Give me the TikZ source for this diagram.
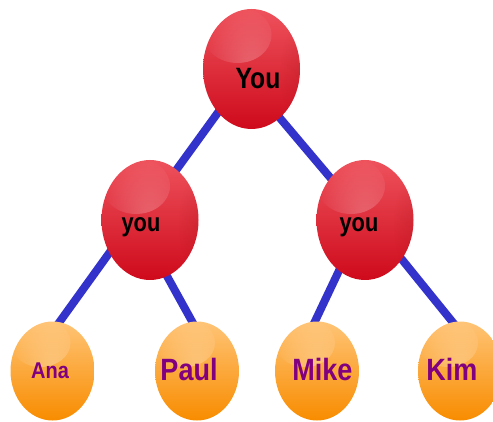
\documentclass[tikz,border=0pt]{standalone}
\usepackage{fontspec}
\setmainfont{Liberation Sans}
\usetikzlibrary{shapes.geometric,fadings,backgrounds}

\definecolor{linkblue}{RGB}{51,51,204}
\definecolor{redtop}{RGB}{238,82,92}
\definecolor{redmid}{RGB}{255,34,48}
\definecolor{redbot}{RGB}{206,10,28}
\definecolor{orgtop}{RGB}{255,196,118}
\definecolor{orgmid}{RGB}{255,160,34}
\definecolor{orgbot}{RGB}{248,140,0}
\definecolor{namepurple}{RGB}{128,0,128}

\tikzfading[name=softglow, inner color=transparent!0, outer color=transparent!100]

\tikzset{
  ball/.style={ellipse, inner sep=0pt, draw=none},
  redball/.style={ball, minimum width=97pt, minimum height=120pt,
    top color=redtop, middle color=redmid, bottom color=redbot,
    path picture={
      \fill[white, fill opacity=0.25, path fading=softglow]
        ([shift={(-14pt,34pt)}]path picture bounding box.center) ellipse (34pt and 28pt);
      \fill[black!50!red, fill opacity=0.12, path fading=softglow]
        ([shift={(48pt,-4pt)}]path picture bounding box.center) ellipse (20pt and 50pt);
    }},
  orangeball/.style={ball, minimum width=84pt, minimum height=99pt,
    top color=orgtop, middle color=orgmid, bottom color=orgbot,
    path picture={
      \fill[white, fill opacity=0.3, path fading=softglow]
        ([shift={(-12pt,28pt)}]path picture bounding box.center) ellipse (30pt and 24pt);
    }},
  % lettering is a little taller than wide, as in the balls themselves
  bigyou/.style={anchor=base, yscale=1.19, font=\fontsize{24.7}{30}\selectfont\bfseries, text=black},
  smallyou/.style={anchor=base, yscale=1.19, font=\fontsize{21.8}{26}\selectfont\bfseries, text=black},
  nametext/.style={anchor=base, yscale=1.14, font=\fontsize{27}{32}\selectfont\bfseries, text=namepurple},
  smallname/.style={anchor=base, yscale=1.14, font=\fontsize{20}{24}\selectfont\bfseries, text=namepurple},
  link/.style={draw=linkblue, line width=8pt, shorten >=-12pt, shorten <=-2pt},
}

\begin{document}
\begin{tikzpicture}[x=1pt, y=1pt]
\useasboundingbox (0,0) rectangle (493,421);
\clip (0,0) rectangle (493,421);

% generations, top to bottom
\node[redball] (top) at (251.5,352) {};
\node[redball] (midL) at (150,201) {};
\node[redball] (midR) at (365,201) {};
\node[orangeball] (ana) at (52.5,50) {};
\node[orangeball] (paul) at (197,50) {};
\node[orangeball] (mike) at (317,50) {};
\node[orangeball] (kim) at (460,50) {};

% labels
\node[bigyou] (ttop) at ([shift={(6.5pt,-19.3pt)}]top.center) {You};
\node[smallyou] (tmidL) at ([shift={(-9pt,-11.7pt)}]midL.center) {you};
\node[smallyou] (tmidR) at ([shift={(-6pt,-11.7pt)}]midR.center) {you};
\node[smallname] (tana) at ([shift={(-2.5pt,-7pt)}]ana.center) {Ana};
\node[nametext] (tpaul) at ([shift={(-8pt,-9pt)}]paul.center) {Paul};
\node[nametext] (tmike) at ([shift={(5.5pt,-9pt)}]mike.center) {Mike};
\node[nametext] (tkim) at ([shift={(-8pt,-9pt)}]kim.center) {Kim};

% connectors behind the balls
\begin{scope}[on background layer]
\draw[link] ([xshift=-2pt]top.center) -- ([xshift=-10pt]midL.center);
\draw[link] ([xshift=-13pt]top.center) -- ([xshift=1pt]midR.center);
\draw[link] ([xshift=-17pt]midL.center) -- ([xshift=7.5pt]ana.north);
\draw[link] ([xshift=-14pt]midL.center) -- ([xshift=-5pt]paul.north);
\draw[link] ([xshift=-2pt]midR.center) -- ([xshift=-2pt]mike.north);
\draw[link] ([xshift=5pt]midR.center) -- ([xshift=-8pt]kim.north);
\end{scope}
\end{tikzpicture}
\end{document}
